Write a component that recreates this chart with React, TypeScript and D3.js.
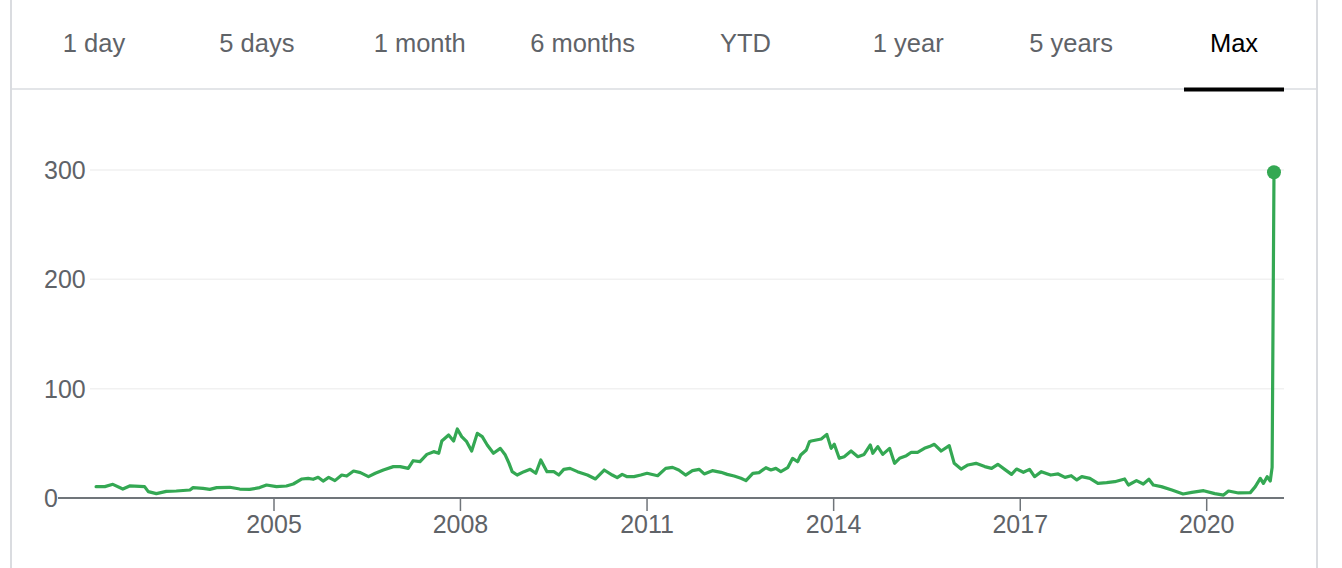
import React from 'react';
import * as d3 from 'd3';

const tabs = ['1 day', '5 days', '1 month', '6 months', 'YTD', '1 year', '5 years', 'Max'];
const activeTab = 'Max';
const yTicks = [0, 100, 200, 300];
const xTickYears = [2005, 2008, 2011, 2014, 2017, 2020];

// decimal years
const dates = [
  2002.14, 2002.28, 2002.41, 2002.57, 2002.68, 2002.84, 2002.92, 2002.98, 2003.11, 2003.27,
  2003.43, 2003.65, 2003.70, 2003.86, 2003.97, 2004.08, 2004.29, 2004.45, 2004.61, 2004.77,
  2004.88, 2005.04, 2005.20, 2005.31, 2005.45, 2005.55, 2005.63, 2005.71, 2005.79, 2005.88,
  2005.98, 2006.09, 2006.17, 2006.28, 2006.39, 2006.52, 2006.63, 2006.76, 2006.92, 2007.03,
  2007.16, 2007.24, 2007.35, 2007.46, 2007.57, 2007.65, 2007.70, 2007.81, 2007.89, 2007.95,
  2008.02, 2008.10, 2008.18, 2008.27, 2008.35, 2008.43, 2008.53, 2008.64, 2008.72, 2008.78,
  2008.83, 2008.91, 2009.02, 2009.12, 2009.21, 2009.29, 2009.39, 2009.50, 2009.58, 2009.66,
  2009.76, 2009.88, 2010.04, 2010.17, 2010.31, 2010.44, 2010.52, 2010.60, 2010.68, 2010.79,
  2010.90, 2011.00, 2011.17, 2011.30, 2011.41, 2011.51, 2011.62, 2011.73, 2011.84, 2011.92,
  2012.05, 2012.19, 2012.29, 2012.40, 2012.51, 2012.59, 2012.70, 2012.80, 2012.91, 2012.99,
  2013.07, 2013.15, 2013.26, 2013.34, 2013.42, 2013.47, 2013.56, 2013.61, 2013.64, 2013.72,
  2013.80, 2013.89, 2013.96, 2014.01, 2014.09, 2014.17, 2014.28, 2014.39, 2014.49, 2014.59,
  2014.63, 2014.71, 2014.79, 2014.90, 2014.98, 2015.06, 2015.17, 2015.25, 2015.35, 2015.46,
  2015.54, 2015.62, 2015.73, 2015.86, 2015.94, 2016.05, 2016.16, 2016.29, 2016.43, 2016.54,
  2016.64, 2016.75, 2016.86, 2016.94, 2017.05, 2017.15, 2017.23, 2017.34, 2017.49, 2017.61,
  2017.72, 2017.82, 2017.91, 2017.99, 2018.12, 2018.25, 2018.39, 2018.52, 2018.68, 2018.74,
  2018.87, 2018.98, 2019.07, 2019.14, 2019.27, 2019.44, 2019.62, 2019.76, 2019.95, 2020.13,
  2020.27, 2020.35, 2020.51, 2020.70, 2020.78, 2020.86, 2020.91, 2020.97, 2021.02, 2021.05,
  2021.08,
];

const prices = [
  10.4, 10.4, 12.5, 8.2, 11.0, 10.7, 10.4, 5.8, 4.0, 6.1,
  6.4, 7.3, 9.5, 8.8, 7.9, 9.5, 9.8, 8.2, 7.9, 9.5,
  11.9, 10.4, 11.0, 12.8, 17.4, 18.0, 17.1, 18.9, 15.5, 18.9,
  15.9, 21.0, 20.1, 24.7, 23.2, 19.5, 22.6, 25.6, 28.7, 28.7,
  27.1, 34.1, 33.2, 39.9, 42.4, 40.9, 52.1, 57.6, 52.1, 63.1,
  56.1, 51.5, 43.0, 59.1, 56.1, 48.5, 40.9, 45.4, 39.3, 31.7,
  24.1, 21.0, 24.1, 26.2, 22.6, 34.8, 24.1, 24.1, 21.0, 26.2,
  27.1, 24.1, 21.0, 17.4, 25.6, 21.0, 18.6, 21.6, 19.5, 19.5,
  21.0, 22.6, 20.4, 27.1, 28.0, 25.6, 21.0, 25.0, 26.2, 22.0,
  25.0, 23.5, 21.6, 20.1, 18.0, 15.9, 22.6, 23.2, 27.7, 25.6,
  27.1, 24.1, 27.7, 36.3, 33.2, 39.3, 43.9, 51.5, 52.1, 53.0,
  54.0, 58.2, 45.4, 49.1, 36.3, 37.8, 43.0, 37.8, 39.9, 48.5,
  40.9, 47.0, 39.9, 45.4, 31.7, 36.3, 38.7, 41.8, 41.8, 45.4,
  47.0, 49.1, 43.0, 47.9, 31.7, 26.5, 30.2, 31.7, 28.7, 27.1,
  30.8, 26.2, 21.6, 26.5, 23.5, 26.2, 19.5, 24.1, 21.0, 22.0,
  18.9, 20.4, 16.5, 19.5, 18.0, 13.4, 14.0, 14.9, 17.4, 11.9,
  15.9, 12.8, 17.1, 11.9, 10.4, 7.3, 3.7, 5.2, 6.7, 4.0,
  2.7, 6.4, 4.6, 4.9, 10.4, 18.0, 13.4, 19.5, 15.5, 28.0,
  298.0,
];

const toDate = (v: number) => {
  const y = Math.floor(v);
  const a = +new Date(y, 0, 1);
  const b = +new Date(y + 1, 0, 1);
  return new Date(a + (v - y) * (b - a));
};

const data = dates.map((d, i) => ({ date: toDate(d), value: prices[i] }));

const W = 1342;
const H = 568;
const green = '#34a853';
const font = '"Liberation Sans", Arial, Helvetica, sans-serif';

export default function App() {
  const x = d3
    .scaleTime()
    .domain([new Date(2005, 0, 1), new Date(2020, 0, 1)])
    .range([274, 1206.7]);
  const y = d3.scaleLinear().domain([0, 300]).range([498, 170]);
  const tabX = d3.scalePoint<string>().domain(tabs).range([94, 1234]);

  const line = d3
    .line<{ date: Date; value: number }>()
    .x(d => x(d.date))
    .y(d => y(d.value))
    .curve(d3.curveLinear);

  const last = data[data.length - 1];

  return (
    <svg
      width={W}
      height={H}
      style={{ position: 'absolute', left: 0, top: 0, background: '#fff' }}
      fontFamily={font}
    >
      {/* card borders */}
      <line x1={11} x2={11} y1={0} y2={H} stroke="#dadce0" strokeWidth={2} />
      <line x1={1317} x2={1317} y1={0} y2={H} stroke="#dadce0" strokeWidth={2} />
      <line x1={11} x2={1317} y1={89} y2={89} stroke="#dadce0" strokeWidth={1.5} />

      {/* range tabs */}
      {tabs.map(t => (
        <text
          key={t}
          x={tabX(t)}
          y={52}
          textAnchor="middle"
          fontSize={25.5}
          fill={t === activeTab ? '#000' : '#5f6368'}
        >
          {t}
        </text>
      ))}
      <rect x={(tabX(activeTab) as number) - 50} y={87.5} width={100} height={4} fill="#000" />

      {/* grid + y labels */}
      {yTicks.map(t => (
        <g key={t}>
          {t > 0 && (
            <line x1={90} x2={1284} y1={y(t)} y2={y(t)} stroke="#f1f1f1" strokeWidth={1.5} />
          )}
          <text x={44} y={y(t) + 9} fontSize={25} fill="#5f6368">
            {t}
          </text>
        </g>
      ))}

      {/* x axis */}
      <line x1={58} x2={1284} y1={y(0)} y2={y(0)} stroke="#70757a" strokeWidth={2} />
      {xTickYears.map(yr => {
        const px = x(new Date(yr, 0, 1));
        return (
          <g key={yr}>
            <line x1={px} x2={px} y1={y(0)} y2={y(0) + 13} stroke="#70757a" strokeWidth={1.5} />
            <text x={px} y={533} textAnchor="middle" fontSize={25} fill="#5f6368">
              {yr}
            </text>
          </g>
        );
      })}

      {/* price line */}
      <path
        d={line(data) || ''}
        fill="none"
        stroke={green}
        strokeWidth={3.2}
        strokeLinejoin="round"
        strokeLinecap="round"
      />
      <circle cx={x(last.date)} cy={y(last.value)} r={7} fill={green} />
    </svg>
  );
}
